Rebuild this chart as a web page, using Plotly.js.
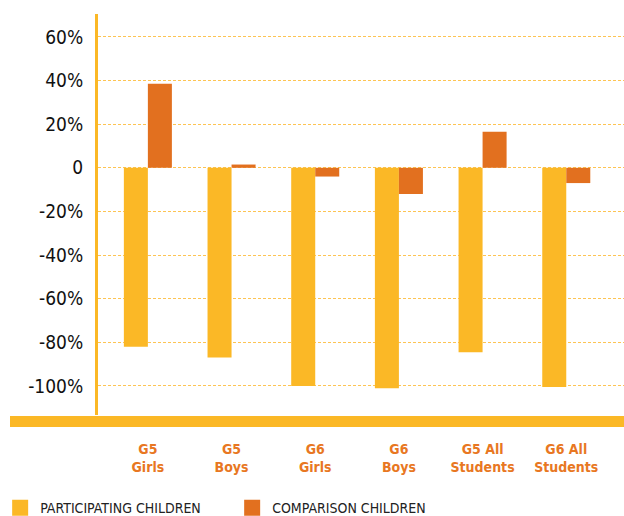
<!DOCTYPE html>
<html>
<head>
<meta charset="utf-8">
<script src="https://cdn.plot.ly/plotly-3.0.1.min.js"></script>
<style>html,body{margin:0;padding:0;background:#fff;}#chart{width:624px;height:516px;}</style>
</head>
<body>
<div id="chart"></div>
<script>
var categories = ["G5<br>Girls", "G5<br>Boys", "G6<br>Girls", "G6<br>Boys", "G5 All<br>Students", "G6 All<br>Students"];
var seriesNames = ["PARTICIPATING CHILDREN", "COMPARISON CHILDREN"];
var participating = [-82, -87, -100, -101, -84.5, -100.5];
var comparison = [38.5, 1.5, -4, -12, 16.5, -7];
var yTickVals = [-100, -80, -60, -40, -20, 0, 20, 40, 60];
var yTickText = ["-100%", "-80%", "-60%", "-40%", "-20%", "0", "20%", "40%", "60%"];
var colors = ["#FBB826", "#E2701F"];

var xIdx = categories.map(function(c, i){ return i; });

var traces = [
  {type: "bar", name: seriesNames[0], x: xIdx, y: participating,
   marker: {color: colors[0]}, hoverinfo: "skip", showlegend: false},
  {type: "bar", name: seriesNames[1], x: xIdx, y: comparison,
   marker: {color: colors[1]}, hoverinfo: "skip", showlegend: false},
  {type: "scatter", mode: "markers", name: seriesNames[0], x: [null], y: [null],
   marker: {symbol: "square", size: 16, color: colors[0]}, showlegend: true},
  {type: "scatter", mode: "markers", name: seriesNames[1], x: [null], y: [null],
   marker: {symbol: "square", size: 16, color: colors[1]}, showlegend: true}
];

var layout = {
  width: 624, height: 516,
  margin: {l: 98, r: 0, t: 14, b: 101, autoexpand: false},
  paper_bgcolor: "#fff", plot_bgcolor: "#fff",
  barmode: "group", bargap: 0.426, bargroupgap: 0,
  showlegend: true,
  legend: {orientation: "h", x: -0.186, xanchor: "left", y: -0.232, yanchor: "middle",
           font: {family: "DejaVu Sans Condensed", size: 14, color: "#222"},
           itemwidth: 30, entrywidth: 187, entrywidthmode: "pixels",
           traceorder: "normal", bgcolor: "rgba(0,0,0,0)"},
  xaxis: {range: [-0.596, 5.69], tickmode: "array", tickvals: xIdx, ticktext: categories,
          showgrid: false, zeroline: false, showline: false,
          ticks: "outside", ticklen: 21, tickcolor: "rgba(0,0,0,0)",
          tickfont: {family: "Liberation Sans Narrow, DejaVu Sans Condensed", size: 14, color: "#E87722", weight: "bold"},
          fixedrange: true},
  yaxis: {range: [-113.3, 70.5], tickmode: "array", tickvals: yTickVals, ticktext: yTickText,
          showgrid: true, gridcolor: "#FDC453", griddash: "3px,2px", gridwidth: 1,
          zeroline: false, showline: true, linecolor: "#FBB826", linewidth: 3,
          ticks: "outside", ticklen: 8, tickcolor: "rgba(0,0,0,0)",
          tickfont: {family: "DejaVu Sans Condensed", size: 19, color: "#111"},
          fixedrange: true},
  shapes: [
    {type: "rect", xref: "paper", yref: "paper", x0: -0.1673, x1: 1, y0: -0.0025, y1: -0.0299,
     fillcolor: "#FBB826", line: {width: 0}, layer: "above"}
  ]
};

Plotly.newPlot("chart", traces, layout, {displayModeBar: false, staticPlot: true});
</script>
</body>
</html>
